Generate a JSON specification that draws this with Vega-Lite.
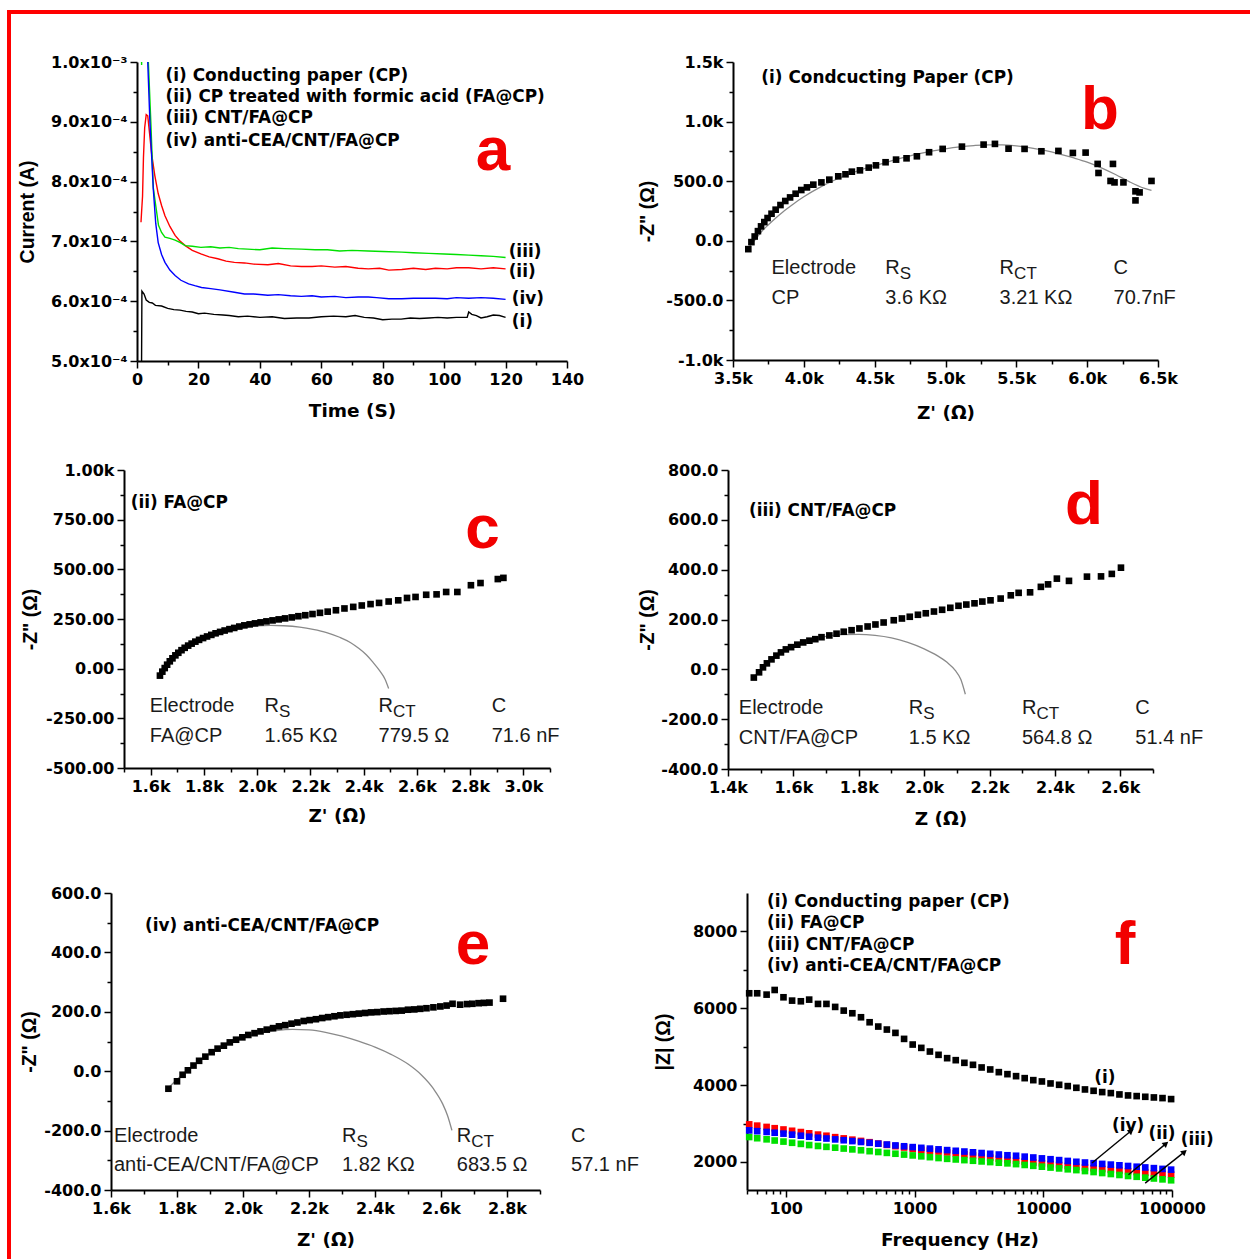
{
"$schema": "https://vega.github.io/schema/vega-lite/v6.json",
"padding": {"left": 7, "top": 10, "right": 0, "bottom": 0},
"background": "white",
"config": {
  "view": {"stroke": null},
  "axis": {"labelFont": "DejaVu Sans", "labelFontWeight": "bold", "labelFontSize": 16, "labelColor": "#000", "titleFont": "DejaVu Sans", "titleFontWeight": "bold", "titleFontSize": 18.5, "titleColor": "#000", "domainColor": "#000", "domainWidth": 2, "tickColor": "#000", "tickWidth": 1.5, "grid": false, "labelFlush": false, "labelOverlap": false, "labelPadding": 3},
  "axisY": {"titleFont": "Liberation Sans", "titleFontSize": 19.5}
},
"spacing": 0,
"bounds": "flush",
"hconcat": [
  {"width": 4, "height": 1249, "data": {"values": []}, "mark": "point", "view": {"fill": "#ff0000", "stroke": null}},
  {"spacing": 0, "bounds": "flush", "vconcat": [
    {"width": 1239, "height": 4, "data": {"values": []}, "mark": "point", "view": {"fill": "#ff0000", "stroke": null}},
    {"spacing": 0, "bounds": "flush", "hconcat": [
      {"spacing": 0, "bounds": "flush", "vconcat": [
        {"width": 1, "height": 48, "data": {"values": []}, "mark": "point"},
        {"spacing": 0, "bounds": "flush", "hconcat": [
          {"width": 126, "height": 1, "data": {"values": []}, "mark": "point"},
          {"spacing": 166, "bounds": "flush", "hconcat": [
            {"width": 430, "height": 299,
             "encoding": {
               "x": {"field": "x", "type": "quantitative", "scale": {"domain": [0, 140], "nice": false, "zero": false},
                 "axis": {"title": "Time (S)", "values": [0,10,20,30,40,50,60,70,80,90,100,110,120,130,140], "labelExpr": "datum.value % 20 == 0 ? format(datum.value, 'd') : ''", "tickSize": {"condition": {"test": "datum.value % 20 == 0", "value": 7}, "value": 4}, "minExtent": 25, "maxExtent": 25, "titlePadding": 15.4}},
               "y": {"field": "y", "type": "quantitative", "scale": {"domain": [0.0005, 0.001], "nice": false, "zero": false},
                 "axis": {"title": "Current (A)", "values": [0.0005,0.00055,0.0006,0.00065,0.0007,0.00075,0.0008,0.00085,0.0009,0.00095,0.001], "labelExpr": "datum.value > 0.000999 ? '1.0x10⁻³' : (abs(datum.value * 10000 - round(datum.value * 10000)) < 0.01 ? format(datum.value * 10000, '.1f') + 'x10⁻⁴' : '')", "tickSize": {"condition": {"test": "abs(datum.value * 10000 - round(datum.value * 10000)) < 0.01", "value": 7}, "value": 4}, "minExtent": 80, "maxExtent": 80, "titlePadding": 19.6}}
             },
             "layer": [
               {"data": {"values": [
                 {"s":"i","x":1.3,"y":0.0003},{"s":"i","x":1.6,"y":0.000617},{"s":"i","x":2.3,"y":0.000612},{"s":"i","x":3,"y":0.000602},{"s":"i","x":4,"y":0.000598},{"s":"i","x":5,"y":0.000597},{"s":"i","x":6,"y":0.000593},{"s":"i","x":8,"y":0.000592},{"s":"i","x":10,"y":0.000588},{"s":"i","x":12,"y":0.000586},{"s":"i","x":14,"y":0.000585},{"s":"i","x":16,"y":0.000583},{"s":"i","x":18,"y":0.000582},{"s":"i","x":20,"y":0.000579},{"s":"i","x":22,"y":0.00058},{"s":"i","x":25,"y":0.000578},{"s":"i","x":28,"y":0.000577},{"s":"i","x":30,"y":0.000576},{"s":"i","x":33,"y":0.000574},{"s":"i","x":36,"y":0.000575},{"s":"i","x":40,"y":0.000573},{"s":"i","x":44,"y":0.000574},{"s":"i","x":48,"y":0.000571},{"s":"i","x":52,"y":0.000572},{"s":"i","x":56,"y":0.000572},{"s":"i","x":60,"y":0.000574},{"s":"i","x":64,"y":0.000575},{"s":"i","x":68,"y":0.000574},{"s":"i","x":71,"y":0.000576},{"s":"i","x":74,"y":0.000573},{"s":"i","x":77,"y":0.000572},{"s":"i","x":80,"y":0.000569},{"s":"i","x":83,"y":0.00057},{"s":"i","x":86,"y":0.00057},{"s":"i","x":89,"y":0.000572},{"s":"i","x":92,"y":0.000571},{"s":"i","x":95,"y":0.000572},{"s":"i","x":98,"y":0.000573},{"s":"i","x":101,"y":0.000572},{"s":"i","x":104,"y":0.000573},{"s":"i","x":107.5,"y":0.000573},{"s":"i","x":108,"y":0.000582},{"s":"i","x":109,"y":0.000578},{"s":"i","x":110.5,"y":0.000576},{"s":"i","x":112,"y":0.000572},{"s":"i","x":114,"y":0.000574},{"s":"i","x":116,"y":0.000577},{"s":"i","x":118,"y":0.000576},{"s":"i","x":120,"y":0.000573},
                 {"s":"ii","x":1.3,"y":0.000732},{"s":"ii","x":1.5,"y":0.00075},{"s":"ii","x":1.8,"y":0.000775},{"s":"ii","x":2.1,"y":0.00084},{"s":"ii","x":2.5,"y":0.00089},{"s":"ii","x":3.0,"y":0.000912},{"s":"ii","x":3.5,"y":0.00091},{"s":"ii","x":4.1,"y":0.00088},{"s":"ii","x":4.8,"y":0.000845},{"s":"ii","x":5.8,"y":0.00081},{"s":"ii","x":6.9,"y":0.00078},{"s":"ii","x":8.0,"y":0.00076},{"s":"ii","x":9.1,"y":0.000743},{"s":"ii","x":10.7,"y":0.000725},{"s":"ii","x":12.4,"y":0.00071},{"s":"ii","x":14.1,"y":0.0007},{"s":"ii","x":15.7,"y":0.000693},{"s":"ii","x":18,"y":0.000685},{"s":"ii","x":20.8,"y":0.000679},{"s":"ii","x":23.5,"y":0.000674},{"s":"ii","x":26.3,"y":0.000671},{"s":"ii","x":29,"y":0.000667},{"s":"ii","x":31.7,"y":0.000665},{"s":"ii","x":35,"y":0.000664},{"s":"ii","x":38,"y":0.000662},{"s":"ii","x":42.6,"y":0.000661},{"s":"ii","x":46,"y":0.000663},{"s":"ii","x":50,"y":0.000659},{"s":"ii","x":53.5,"y":0.000658},{"s":"ii","x":57,"y":0.000658},{"s":"ii","x":60,"y":0.000659},{"s":"ii","x":64.4,"y":0.000657},{"s":"ii","x":68,"y":0.000658},{"s":"ii","x":72,"y":0.000655},{"s":"ii","x":75.3,"y":0.000654},{"s":"ii","x":79,"y":0.000655},{"s":"ii","x":82,"y":0.000652},{"s":"ii","x":86.2,"y":0.000653},{"s":"ii","x":90,"y":0.000655},{"s":"ii","x":94,"y":0.000653},{"s":"ii","x":97.2,"y":0.000655},{"s":"ii","x":101,"y":0.000654},{"s":"ii","x":104,"y":0.000656},{"s":"ii","x":108,"y":0.000656},{"s":"ii","x":112,"y":0.000654},{"s":"ii","x":116,"y":0.000656},{"s":"ii","x":120,"y":0.000654},
                 {"s":"iii","x":1.4,"y":0.00105},{"s":"iii","x":1.5,"y":0.000995},{"s":"iii","x":1.6,"y":0.00105},{"s":"iii","x":3.4,"y":0.00106},{"s":"iii","x":3.7,"y":0.001},{"s":"iii","x":4.5,"y":0.0009},{"s":"iii","x":5.3,"y":0.00079},{"s":"iii","x":6.1,"y":0.00076},{"s":"iii","x":7.0,"y":0.000727},{"s":"iii","x":8.0,"y":0.000715},{"s":"iii","x":9.1,"y":0.000707},{"s":"iii","x":10.7,"y":0.000705},{"s":"iii","x":12.4,"y":0.000702},{"s":"iii","x":14.1,"y":0.000698},{"s":"iii","x":15.7,"y":0.000693},{"s":"iii","x":18,"y":0.000692},{"s":"iii","x":20.8,"y":0.00069},{"s":"iii","x":24,"y":0.000691},{"s":"iii","x":27,"y":0.000689},{"s":"iii","x":30,"y":0.00069},{"s":"iii","x":33,"y":0.000688},{"s":"iii","x":36,"y":0.000687},{"s":"iii","x":40,"y":0.000686},{"s":"iii","x":44,"y":0.000689},{"s":"iii","x":48,"y":0.000688},{"s":"iii","x":53.5,"y":0.000687},{"s":"iii","x":58,"y":0.000686},{"s":"iii","x":62,"y":0.000686},{"s":"iii","x":66,"y":0.000684},{"s":"iii","x":70,"y":0.000685},{"s":"iii","x":75.3,"y":0.000684},{"s":"iii","x":80,"y":0.000683},{"s":"iii","x":86.2,"y":0.000682},{"s":"iii","x":90,"y":0.000681},{"s":"iii","x":95,"y":0.00068},{"s":"iii","x":100,"y":0.000679},{"s":"iii","x":104,"y":0.000678},{"s":"iii","x":108,"y":0.000677},{"s":"iii","x":112,"y":0.000676},{"s":"iii","x":116,"y":0.000675},{"s":"iii","x":120,"y":0.000673},
                 {"s":"iv","x":3.1,"y":0.00106},{"s":"iv","x":3.5,"y":0.001},{"s":"iv","x":4.2,"y":0.0009},{"s":"iv","x":5.3,"y":0.000788},{"s":"iv","x":6.1,"y":0.00073},{"s":"iv","x":6.9,"y":0.000698},{"s":"iv","x":8.0,"y":0.000678},{"s":"iv","x":9.1,"y":0.000665},{"s":"iv","x":10.7,"y":0.000652},{"s":"iv","x":12.4,"y":0.000643},{"s":"iv","x":14.3,"y":0.000635},{"s":"iv","x":16.8,"y":0.000629},{"s":"iv","x":18.8,"y":0.000626},{"s":"iv","x":21,"y":0.000623},{"s":"iv","x":24,"y":0.000621},{"s":"iv","x":27,"y":0.000619},{"s":"iv","x":31.7,"y":0.000615},{"s":"iv","x":35,"y":0.000612},{"s":"iv","x":38,"y":0.000612},{"s":"iv","x":42.6,"y":0.00061},{"s":"iv","x":46,"y":0.000611},{"s":"iv","x":50,"y":0.000609},{"s":"iv","x":53.5,"y":0.000608},{"s":"iv","x":57,"y":0.000609},{"s":"iv","x":60,"y":0.000607},{"s":"iv","x":64.4,"y":0.000608},{"s":"iv","x":68,"y":0.000606},{"s":"iv","x":72,"y":0.000607},{"s":"iv","x":75.3,"y":0.000607},{"s":"iv","x":78,"y":0.000606},{"s":"iv","x":82,"y":0.000604},{"s":"iv","x":86.2,"y":0.000604},{"s":"iv","x":90,"y":0.000605},{"s":"iv","x":94,"y":0.000605},{"s":"iv","x":97.2,"y":0.000605},{"s":"iv","x":101,"y":0.000604},{"s":"iv","x":104,"y":0.000606},{"s":"iv","x":108,"y":0.000605},{"s":"iv","x":112,"y":0.000606},{"s":"iv","x":116,"y":0.000605},{"s":"iv","x":120,"y":0.000603}
               ]},
               "mark": {"type": "line", "clip": true, "strokeWidth": 1.4},
               "encoding": {"color": {"field": "s", "type": "nominal", "scale": {"domain": ["i","ii","iii","iv"], "range": ["#000000","#ff0000","#00e000","#0000ff"]}, "legend": null}}},
               {"data": {"values": [
                 {"x": 9.3, "y": 0.0009771, "t": "(i) Conducting paper (CP)"},
                 {"x": 9.3, "y": 0.000942, "t": "(ii) CP treated with formic acid (FA@CP)"},
                 {"x": 9.3, "y": 0.0009059, "t": "(iii) CNT/FA@CP"},
                 {"x": 9.3, "y": 0.0008679, "t": "(iv) anti-CEA/CNT/FA@CP"},
                 {"x": 121, "y": 0.0006828, "t": "(iii)"},
                 {"x": 121, "y": 0.0006483, "t": "(ii)"},
                 {"x": 122, "y": 0.0006037, "t": "(iv)"},
                 {"x": 122, "y": 0.0005657, "t": "(i)"}
               ]},
               "mark": {"type": "text", "align": "left", "baseline": "middle", "font": "DejaVu Sans", "fontWeight": "bold", "fontSize": 16.9, "color": "#000"},
               "encoding": {"text": {"field": "t", "type": "nominal"}}},
               {"data": {"values": [{"x": 115.9, "y": 0.0008194, "t": "a"}]},
               "mark": {"type": "text", "align": "center", "baseline": "alphabetic", "font": "Liberation Sans", "fontWeight": "bold", "fontSize": 62, "color": "#f20000"},
               "encoding": {"text": {"field": "t", "type": "nominal"}}}
             ]},
            {"width": 425, "height": 298,
             "encoding": {
               "x": {"field": "x", "type": "quantitative", "scale": {"domain": [3500, 6500], "nice": false, "zero": false},
                 "axis": {"title": "Z' (Ω)", "values": [3500,3750,4000,4250,4500,4750,5000,5250,5500,5750,6000,6250,6500], "labelExpr": "datum.value % 500 == 0 ? format(datum.value / 1000, '.1f') + 'k' : ''", "tickSize": {"condition": {"test": "datum.value % 500 == 0", "value": 7}, "value": 4}, "minExtent": 25, "maxExtent": 25, "titlePadding": 18.4}},
               "y": {"field": "y", "type": "quantitative", "scale": {"domain": [-1000, 1500], "nice": false, "zero": false},
                 "axis": {"title": "-Z\" (Ω)", "values": [-1000,-750,-500,-250,0,250,500,750,1000,1250,1500], "labelExpr": "datum.value % 500 != 0 ? '' : (abs(datum.value) >= 1000 ? (datum.value < 0 ? '-' : '') + format(abs(datum.value) / 1000, '.1f') + 'k' : (datum.value < 0 ? '-' : '') + format(abs(datum.value), '.1f'))", "tickSize": {"condition": {"test": "datum.value % 500 == 0", "value": 7}, "value": 4}, "minExtent": 60, "maxExtent": 60, "titlePadding": 15.6}}
             },
             "layer": [
               {"data": {"values": [{"x":3600,"y":-70},{"x":3650,"y":0},{"x":3700,"y":75},{"x":3750,"y":135},{"x":3800,"y":190},{"x":3850,"y":240},{"x":3900,"y":285},{"x":3950,"y":330},{"x":4000,"y":370},{"x":4100,"y":440},{"x":4200,"y":500},{"x":4300,"y":550},{"x":4400,"y":595},{"x":4500,"y":630},{"x":4600,"y":665},{"x":4700,"y":697},{"x":4800,"y":727},{"x":4900,"y":752},{"x":5000,"y":772},{"x":5100,"y":788},{"x":5200,"y":799},{"x":5300,"y":805},{"x":5400,"y":804},{"x":5500,"y":796},{"x":5600,"y":780},{"x":5700,"y":758},{"x":5800,"y":730},{"x":5900,"y":697},{"x":6000,"y":660},{"x":6100,"y":612},{"x":6200,"y":556},{"x":6300,"y":494},{"x":6400,"y":442},{"x":6454,"y":423}]},
                "mark": {"type": "line", "color": "#8a8a8a", "strokeWidth": 1.3, "interpolate": "monotone"}},
               {"data": {"values": [{"x":3608,"y":-70},{"x":3630,"y":-11},{"x":3653,"y":36},{"x":3676,"y":81},{"x":3698,"y":121},{"x":3721,"y":157},{"x":3744,"y":191},{"x":3772,"y":227},{"x":3801,"y":261},{"x":3835,"y":300},{"x":3869,"y":334},{"x":3903,"y":364},{"x":3942,"y":395},{"x":3982,"y":426},{"x":4022,"y":448},{"x":4067,"y":471},{"x":4124,"y":490},{"x":4180,"y":513},{"x":4243,"y":541},{"x":4294,"y":558},{"x":4339,"y":580},{"x":4396,"y":591},{"x":4458,"y":614},{"x":4509,"y":633},{"x":4577,"y":659},{"x":4651,"y":681},{"x":4725,"y":692},{"x":4798,"y":709},{"x":4884,"y":743},{"x":4980,"y":771},{"x":5116,"y":790},{"x":5269,"y":807},{"x":5349,"y":813},{"x":5445,"y":773},{"x":5558,"y":771},{"x":5677,"y":751},{"x":5797,"y":754},{"x":5899,"y":737},{"x":5989,"y":740},{"x":6074,"y":645},{"x":6080,"y":569},{"x":6182,"y":645},{"x":6165,"y":502},{"x":6193,"y":490},{"x":6256,"y":490},{"x":6341,"y":415},{"x":6370,"y":406},{"x":6341,"y":339},{"x":6454,"y":502}]},
                "mark": {"type": "square", "filled": true, "color": "#000", "size": 44, "opacity": 1}},
               {"data": {"values": [{"x": 3700, "y": 1368, "t": "(i) Condcucting Paper (CP)"}]},
                "mark": {"type": "text", "align": "left", "baseline": "middle", "font": "DejaVu Sans", "fontWeight": "bold", "fontSize": 16.9, "color": "#000"},
                "encoding": {"text": {"field": "t", "type": "nominal"}}},
               {"data": {"values": [{"x":3772,"y":-231,"t":"Electrode"},{"x":4575,"y":-231,"t":"R"},{"x":5382,"y":-231,"t":"R"},{"x":6186,"y":-231,"t":"C"},{"x":3772,"y":-477,"t":"CP"},{"x":4575,"y":-477,"t":"3.6 KΩ"},{"x":5382,"y":-477,"t":"3.21 KΩ"},{"x":6186,"y":-477,"t":"70.7nF"}]},
                "mark": {"type": "text", "align": "left", "baseline": "middle", "font": "Liberation Sans", "fontSize": 20, "color": "#1a1a1a"},
                "encoding": {"text": {"field": "t", "type": "nominal"}}},
               {"data": {"values": [{"x":4575,"y":-231,"t":"S"},{"x":5382,"y":-231,"t":"CT"}]},
                "mark": {"type": "text", "align": "left", "baseline": "middle", "font": "Liberation Sans", "fontSize": 17, "dx": 14.5, "dy": 6, "color": "#1a1a1a"},
                "encoding": {"text": {"field": "t", "type": "nominal"}}},
               {"data": {"values": [{"x": 6091, "y": 938, "t": "b"}]},
                "mark": {"type": "text", "align": "center", "baseline": "alphabetic", "font": "Liberation Sans", "fontWeight": "bold", "fontSize": 62, "color": "#f20000"},
                "encoding": {"text": {"field": "t", "type": "nominal"}}}
             ]}
          ]}
        ]}
      ]},
      {"spacing": 0, "bounds": "flush", "vconcat": [
        {"width": 1, "height": 456, "data": {"values": []}, "mark": "point"},
        {"spacing": 0, "bounds": "flush", "hconcat": [
          {"width": 113, "height": 1, "data": {"values": []}, "mark": "point"},
          {"spacing": 178, "bounds": "flush", "hconcat": [
            {"width": 426, "height": 298,
             "encoding": {
               "x": {"field": "x", "type": "quantitative", "scale": {"domain": [1500, 3100], "nice": false, "zero": false},
                 "axis": {"title": "Z' (Ω)", "values": [1500,1600,1700,1800,1900,2000,2100,2200,2300,2400,2500,2600,2700,2800,2900,3000,3100], "labelExpr": "datum.value % 200 == 0 ? format(datum.value / 1000, '.1f') + 'k' : ''", "tickSize": {"condition": {"test": "datum.value % 200 == 0", "value": 7}, "value": 4}, "minExtent": 25, "maxExtent": 25, "titlePadding": 13.4}},
               "y": {"field": "y", "type": "quantitative", "scale": {"domain": [-500, 1000], "nice": false, "zero": false},
                 "axis": {"title": "-Z\" (Ω)", "values": [-500,-375,-250,-125,0,125,250,375,500,625,750,875,1000], "labelExpr": "datum.value % 250 != 0 ? '' : (datum.value == 1000 ? '1.00k' : (datum.value < 0 ? '-' : '') + format(abs(datum.value), '.2f'))", "tickSize": {"condition": {"test": "datum.value % 250 == 0", "value": 7}, "value": 4}, "minExtent": 66, "maxExtent": 66, "titlePadding": 17.6}}
             },
             "layer": [
               {"data": {"values": [{"x":1640,"y":-30},{"x":1670,"y":25},{"x":1700,"y":68},{"x":1750,"y":118},{"x":1800,"y":152},{"x":1850,"y":176},{"x":1900,"y":195},{"x":1950,"y":207},{"x":2000,"y":215},{"x":2050,"y":218},{"x":2100,"y":216},{"x":2160,"y":209},{"x":2210,"y":198},{"x":2261,"y":182},{"x":2310,"y":158},{"x":2350,"y":132},{"x":2380,"y":104},{"x":2410,"y":70},{"x":2434,"y":34},{"x":2460,"y":-10},{"x":2480,"y":-52},{"x":2494,"y":-100}]},
                "mark": {"type": "line", "color": "#8a8a8a", "strokeWidth": 1.3, "interpolate": "monotone"}},
               {"data": {"values": [{"x":1635,"y":-35},{"x":1644,"y":-15},{"x":1653,"y":3},{"x":1662,"y":20},{"x":1672,"y":37},{"x":1682,"y":52},{"x":1693,"y":67},{"x":1704,"y":80},{"x":1716,"y":93},{"x":1728,"y":105},{"x":1741,"y":116},{"x":1754,"y":126},{"x":1768,"y":136},{"x":1782,"y":145},{"x":1797,"y":154},{"x":1812,"y":162},{"x":1828,"y":170},{"x":1844,"y":178},{"x":1861,"y":185},{"x":1878,"y":192},{"x":1896,"y":199},{"x":1914,"y":205},{"x":1933,"y":212},{"x":1952,"y":218},{"x":1972,"y":223},{"x":1992,"y":228},{"x":2013,"y":233},{"x":2035,"y":238},{"x":2058,"y":243},{"x":2081,"y":248},{"x":2105,"y":253},{"x":2130,"y":258},{"x":2155,"y":264},{"x":2181,"y":269},{"x":2208,"y":275},{"x":2236,"y":281},{"x":2265,"y":287},{"x":2296,"y":294},{"x":2328,"y":303},{"x":2361,"y":311},{"x":2393,"y":318},{"x":2426,"y":325},{"x":2458,"y":331},{"x":2494,"y":338},{"x":2530,"y":344},{"x":2563,"y":356},{"x":2595,"y":361},{"x":2635,"y":372},{"x":2674,"y":374},{"x":2710,"y":386},{"x":2752,"y":386},{"x":2803,"y":420},{"x":2839,"y":431},{"x":2904,"y":451},{"x":2925,"y":457}]},
                "mark": {"type": "square", "filled": true, "color": "#000", "size": 44, "opacity": 1}},
               {"data": {"values": [{"x": 1525, "y": 833, "t": "(ii) FA@CP"}]},
                "mark": {"type": "text", "align": "left", "baseline": "middle", "font": "DejaVu Sans", "fontWeight": "bold", "fontSize": 16.9, "color": "#000"},
                "encoding": {"text": {"field": "t", "type": "nominal"}}},
               {"data": {"values": [{"x":1597,"y":-187,"t":"Electrode"},{"x":2028,"y":-187,"t":"R"},{"x":2456,"y":-187,"t":"R"},{"x":2881,"y":-187,"t":"C"},{"x":1597,"y":-337,"t":"FA@CP"},{"x":2028,"y":-337,"t":"1.65 KΩ"},{"x":2456,"y":-337,"t":"779.5 Ω"},{"x":2881,"y":-337,"t":"71.6 nF"}]},
                "mark": {"type": "text", "align": "left", "baseline": "middle", "font": "Liberation Sans", "fontSize": 20, "color": "#1a1a1a"},
                "encoding": {"text": {"field": "t", "type": "nominal"}}},
               {"data": {"values": [{"x":2028,"y":-187,"t":"S"},{"x":2456,"y":-187,"t":"CT"}]},
                "mark": {"type": "text", "align": "left", "baseline": "middle", "font": "Liberation Sans", "fontSize": 17, "dx": 14.5, "dy": 6, "color": "#1a1a1a"},
                "encoding": {"text": {"field": "t", "type": "nominal"}}},
               {"data": {"values": [{"x": 2846, "y": 606, "t": "c"}]},
                "mark": {"type": "text", "align": "center", "baseline": "alphabetic", "font": "Liberation Sans", "fontWeight": "bold", "fontSize": 62, "color": "#f20000"},
                "encoding": {"text": {"field": "t", "type": "nominal"}}}
             ]},
            {"width": 425, "height": 299,
             "encoding": {
               "x": {"field": "x", "type": "quantitative", "scale": {"domain": [1400, 2700], "nice": false, "zero": false},
                 "axis": {"title": "Z (Ω)", "values": [1400,1500,1600,1700,1800,1900,2000,2100,2200,2300,2400,2500,2600,2700], "labelExpr": "datum.value % 200 == 0 ? format(datum.value / 1000, '.1f') + 'k' : ''", "tickSize": {"condition": {"test": "datum.value % 200 == 0", "value": 7}, "value": 4}, "minExtent": 25, "maxExtent": 25, "titlePadding": 15.1}},
               "y": {"field": "y", "type": "quantitative", "scale": {"domain": [-400, 800], "nice": false, "zero": false},
                 "axis": {"title": "-Z\" (Ω)", "values": [-400,-300,-200,-100,0,100,200,300,400,500,600,700,800], "labelExpr": "datum.value % 200 != 0 ? '' : (datum.value < 0 ? '-' : '') + format(abs(datum.value), '.1f')", "tickSize": {"condition": {"test": "datum.value % 200 == 0", "value": 7}, "value": 4}, "minExtent": 55, "maxExtent": 55, "titlePadding": 15.6}}
             },
             "layer": [
               {"data": {"values": [{"x":1480,"y":-30},{"x":1500,"y":0},{"x":1550,"y":56},{"x":1600,"y":94},{"x":1650,"y":118},{"x":1700,"y":132},{"x":1750,"y":139},{"x":1800,"y":140},{"x":1850,"y":136},{"x":1900,"y":126},{"x":1950,"y":108},{"x":2000,"y":82},{"x":2040,"y":55},{"x":2070,"y":28},{"x":2095,"y":-4},{"x":2112,"y":-40},{"x":2126,"y":-100}]},
                "mark": {"type": "line", "color": "#8a8a8a", "strokeWidth": 1.3, "interpolate": "monotone"}},
               {"data": {"values": [{"x":1479,"y":-33},{"x":1495,"y":-12},{"x":1507,"y":8},{"x":1519,"y":24},{"x":1533,"y":40},{"x":1548,"y":55},{"x":1562,"y":68},{"x":1577,"y":80},{"x":1593,"y":89},{"x":1612,"y":99},{"x":1630,"y":108},{"x":1649,"y":115},{"x":1667,"y":121},{"x":1686,"y":129},{"x":1710,"y":136},{"x":1732,"y":143},{"x":1754,"y":151},{"x":1778,"y":157},{"x":1802,"y":164},{"x":1827,"y":172},{"x":1851,"y":180},{"x":1876,"y":188},{"x":1907,"y":197},{"x":1932,"y":204},{"x":1956,"y":211},{"x":1981,"y":219},{"x":2005,"y":225},{"x":2030,"y":232},{"x":2055,"y":239},{"x":2080,"y":247},{"x":2105,"y":255},{"x":2129,"y":260},{"x":2154,"y":265},{"x":2178,"y":272},{"x":2203,"y":277},{"x":2234,"y":284},{"x":2265,"y":297},{"x":2289,"y":307},{"x":2324,"y":309},{"x":2357,"y":331},{"x":2379,"y":341},{"x":2406,"y":364},{"x":2443,"y":355},{"x":2498,"y":372},{"x":2541,"y":373},{"x":2574,"y":383},{"x":2602,"y":408}]},
                "mark": {"type": "square", "filled": true, "color": "#000", "size": 44, "opacity": 1}},
               {"data": {"values": [{"x": 1464, "y": 635, "t": "(iii) CNT/FA@CP"}]},
                "mark": {"type": "text", "align": "left", "baseline": "middle", "font": "DejaVu Sans", "fontWeight": "bold", "fontSize": 16.9, "color": "#000"},
                "encoding": {"text": {"field": "t", "type": "nominal"}}},
               {"data": {"values": [{"x":1433,"y":-157,"t":"Electrode"},{"x":1953,"y":-157,"t":"R"},{"x":2299,"y":-157,"t":"R"},{"x":2646,"y":-157,"t":"C"},{"x":1433,"y":-277,"t":"CNT/FA@CP"},{"x":1953,"y":-277,"t":"1.5 KΩ"},{"x":2299,"y":-277,"t":"564.8 Ω"},{"x":2646,"y":-277,"t":"51.4 nF"}]},
                "mark": {"type": "text", "align": "left", "baseline": "middle", "font": "Liberation Sans", "fontSize": 20, "color": "#1a1a1a"},
                "encoding": {"text": {"field": "t", "type": "nominal"}}},
               {"data": {"values": [{"x":1953,"y":-157,"t":"S"},{"x":2299,"y":-157,"t":"CT"}]},
                "mark": {"type": "text", "align": "left", "baseline": "middle", "font": "Liberation Sans", "fontSize": 17, "dx": 14.5, "dy": 6, "color": "#1a1a1a"},
                "encoding": {"text": {"field": "t", "type": "nominal"}}},
               {"data": {"values": [{"x": 2489, "y": 582, "t": "d"}]},
                "mark": {"type": "text", "align": "center", "baseline": "alphabetic", "font": "Liberation Sans", "fontWeight": "bold", "fontSize": 62, "color": "#f20000"},
                "encoding": {"text": {"field": "t", "type": "nominal"}}}
             ]}
          ]}
        ]}
      ]},
      {"spacing": 0, "bounds": "flush", "vconcat": [
        {"width": 1, "height": 879, "data": {"values": []}, "mark": "point"},
        {"spacing": 0, "bounds": "flush", "hconcat": [
          {"width": 100, "height": 1, "data": {"values": []}, "mark": "point"},
          {"spacing": 207, "bounds": "flush", "hconcat": [
            {"width": 429, "height": 297,
             "encoding": {
               "x": {"field": "x", "type": "quantitative", "scale": {"domain": [1600, 2900], "nice": false, "zero": false},
                 "axis": {"title": "Z' (Ω)", "values": [1600,1700,1800,1900,2000,2100,2200,2300,2400,2500,2600,2700,2800,2900], "labelExpr": "datum.value % 200 == 0 ? format(datum.value / 1000, '.1f') + 'k' : ''", "tickSize": {"condition": {"test": "datum.value % 200 == 0", "value": 7}, "value": 4}, "minExtent": 25, "maxExtent": 25, "titlePadding": 15}},
               "y": {"field": "y", "type": "quantitative", "scale": {"domain": [-400, 600], "nice": false, "zero": false},
                 "axis": {"title": "-Z\" (Ω)", "values": [-400,-300,-200,-100,0,100,200,300,400,500,600], "labelExpr": "datum.value % 200 != 0 ? '' : (datum.value < 0 ? '-' : '') + format(abs(datum.value), '.1f')", "tickSize": {"condition": {"test": "datum.value % 200 == 0", "value": 7}, "value": 4}, "minExtent": 55, "maxExtent": 55, "titlePadding": 16.6}}
             },
             "layer": [
               {"data": {"values": [{"x":1775,"y":-55},{"x":1800,"y":-28},{"x":1850,"y":20},{"x":1900,"y":60},{"x":1950,"y":91},{"x":2000,"y":113},{"x":2050,"y":128},{"x":2100,"y":137},{"x":2150,"y":141},{"x":2200,"y":139},{"x":2250,"y":131},{"x":2300,"y":118},{"x":2350,"y":101},{"x":2400,"y":81},{"x":2450,"y":56},{"x":2500,"y":24},{"x":2540,"y":-12},{"x":2577,"y":-59},{"x":2605,"y":-110},{"x":2620,"y":-150},{"x":2633,"y":-199}]},
                "mark": {"type": "line", "color": "#8a8a8a", "strokeWidth": 1.3, "interpolate": "monotone"}},
               {"data": {"values": [{"x":1774,"y":-59},{"x":1800,"y":-34},{"x":1817,"y":-12},{"x":1833,"y":3},{"x":1850,"y":19},{"x":1867,"y":35},{"x":1886,"y":49},{"x":1905,"y":64},{"x":1923,"y":76},{"x":1942,"y":86},{"x":1960,"y":97},{"x":1979,"y":106},{"x":1998,"y":114},{"x":2016,"y":122},{"x":2035,"y":128},{"x":2053,"y":134},{"x":2072,"y":140},{"x":2091,"y":145},{"x":2109,"y":151},{"x":2128,"y":155},{"x":2147,"y":160},{"x":2165,"y":164},{"x":2184,"y":169},{"x":2202,"y":172},{"x":2221,"y":175},{"x":2240,"y":179},{"x":2258,"y":182},{"x":2277,"y":185},{"x":2295,"y":188},{"x":2314,"y":190},{"x":2333,"y":192},{"x":2351,"y":194},{"x":2370,"y":196},{"x":2388,"y":198},{"x":2407,"y":199},{"x":2426,"y":201},{"x":2444,"y":202},{"x":2463,"y":203},{"x":2481,"y":204},{"x":2500,"y":207},{"x":2519,"y":208},{"x":2537,"y":210},{"x":2556,"y":212},{"x":2577,"y":215},{"x":2598,"y":218},{"x":2617,"y":221},{"x":2635,"y":227},{"x":2658,"y":224},{"x":2679,"y":226},{"x":2695,"y":227},{"x":2714,"y":229},{"x":2730,"y":230},{"x":2747,"y":231},{"x":2788,"y":244}]},
                "mark": {"type": "square", "filled": true, "color": "#000", "size": 44, "opacity": 1}},
               {"data": {"values": [{"x": 1703, "y": 488, "t": "(iv) anti-CEA/CNT/FA@CP"}]},
                "mark": {"type": "text", "align": "left", "baseline": "middle", "font": "DejaVu Sans", "fontWeight": "bold", "fontSize": 16.9, "color": "#000"},
                "encoding": {"text": {"field": "t", "type": "nominal"}}},
               {"data": {"values": [{"x":1609,"y":-218,"t":"Electrode"},{"x":2300,"y":-218,"t":"R"},{"x":2648,"y":-218,"t":"R"},{"x":2994,"y":-218,"t":"C"},{"x":1609,"y":-317,"t":"anti-CEA/CNT/FA@CP"},{"x":2300,"y":-317,"t":"1.82 KΩ"},{"x":2648,"y":-317,"t":"683.5 Ω"},{"x":2994,"y":-317,"t":"57.1 nF"}]},
                "mark": {"type": "text", "align": "left", "baseline": "middle", "font": "Liberation Sans", "fontSize": 20, "color": "#1a1a1a"},
                "encoding": {"text": {"field": "t", "type": "nominal"}}},
               {"data": {"values": [{"x":2300,"y":-218,"t":"S"},{"x":2648,"y":-218,"t":"CT"}]},
                "mark": {"type": "text", "align": "left", "baseline": "middle", "font": "Liberation Sans", "fontSize": 17, "dx": 14.5, "dy": 6, "color": "#1a1a1a"},
                "encoding": {"text": {"field": "t", "type": "nominal"}}},
               {"data": {"values": [{"x": 2697, "y": 361, "t": "e"}]},
                "mark": {"type": "text", "align": "center", "baseline": "alphabetic", "font": "Liberation Sans", "fontWeight": "bold", "fontSize": 62, "color": "#f20000"},
                "encoding": {"text": {"field": "t", "type": "nominal"}}}
             ]},
            {"width": 425, "height": 297,
             "encoding": {
               "x": {"field": "x", "type": "quantitative", "scale": {"type": "log", "domain": [50, 100000], "nice": false},
                 "axis": {"title": "Frequency (Hz)", "values": [50,60,70,80,90,100,200,300,400,500,600,700,800,900,1000,2000,3000,4000,5000,6000,7000,8000,9000,10000,20000,30000,40000,50000,60000,70000,80000,90000,100000], "labelExpr": "abs(log(datum.value) / LN10 - round(log(datum.value) / LN10)) < 0.001 ? format(datum.value, 'd') : ''", "tickSize": {"condition": {"test": "abs(log(datum.value) / LN10 - round(log(datum.value) / LN10)) < 0.001", "value": 7}, "value": 4}, "minExtent": 25, "maxExtent": 25, "titlePadding": 15}},
               "y": {"field": "y", "type": "quantitative", "scale": {"domain": [1270, 9000], "nice": false, "zero": false},
                 "axis": {"title": "|Z|  (Ω)", "values": [2000,3000,4000,5000,6000,7000,8000], "labelExpr": "datum.value % 2000 == 0 ? format(datum.value, 'd') : ''", "tickSize": {"condition": {"test": "datum.value % 2000 == 0", "value": 7}, "value": 4}, "minExtent": 55, "maxExtent": 55, "titlePadding": 18.6}}
             },
             "layer": [
               {"data": {"values": [
                 {"s":"i","x":52,"y":6390},{"s":"i","x":60,"y":6390},{"s":"i","x":71,"y":6355},{"s":"i","x":82,"y":6476},{"s":"i","x":96,"y":6286},{"s":"i","x":112,"y":6199},{"s":"i","x":131,"y":6182},{"s":"i","x":152,"y":6225},{"s":"i","x":178,"y":6113},{"s":"i","x":207,"y":6113},{"s":"i","x":242,"y":6035},{"s":"i","x":282,"y":5939},{"s":"i","x":329,"y":5870},{"s":"i","x":384,"y":5766},{"s":"i","x":448,"y":5636},{"s":"i","x":523,"y":5524},{"s":"i","x":610,"y":5446},{"s":"i","x":711,"y":5359},{"s":"i","x":830,"y":5203},{"s":"i","x":968,"y":5056},{"s":"i","x":1129,"y":4969},{"s":"i","x":1317,"y":4874},{"s":"i","x":1537,"y":4788},{"s":"i","x":1793,"y":4701},{"s":"i","x":2091,"y":4649},{"s":"i","x":2440,"y":4580},{"s":"i","x":2846,"y":4528},{"s":"i","x":3320,"y":4459},{"s":"i","x":3873,"y":4407},{"s":"i","x":4518,"y":4337},{"s":"i","x":5271,"y":4285},{"s":"i","x":6149,"y":4233},{"s":"i","x":7173,"y":4181},{"s":"i","x":8368,"y":4129},{"s":"i","x":9762,"y":4095},{"s":"i","x":11388,"y":4043},{"s":"i","x":13284,"y":4008},{"s":"i","x":15497,"y":3974},{"s":"i","x":18078,"y":3930},{"s":"i","x":21089,"y":3887},{"s":"i","x":24602,"y":3852},{"s":"i","x":28700,"y":3818},{"s":"i","x":33480,"y":3792},{"s":"i","x":39057,"y":3757},{"s":"i","x":45562,"y":3731},{"s":"i","x":53151,"y":3714},{"s":"i","x":62003,"y":3696},{"s":"i","x":72330,"y":3679},{"s":"i","x":84377,"y":3662},{"s":"i","x":98430,"y":3636},
                 {"s":"ii","x":52,"y":2978},{"s":"ii","x":60,"y":2945},{"s":"ii","x":71,"y":2911},{"s":"ii","x":82,"y":2878},{"s":"ii","x":96,"y":2845},{"s":"ii","x":112,"y":2811},{"s":"ii","x":131,"y":2778},{"s":"ii","x":152,"y":2745},{"s":"ii","x":178,"y":2712},{"s":"ii","x":207,"y":2682},{"s":"ii","x":242,"y":2645},{"s":"ii","x":282,"y":2613},{"s":"ii","x":329,"y":2580},{"s":"ii","x":384,"y":2547},{"s":"ii","x":448,"y":2514},{"s":"ii","x":523,"y":2479},{"s":"ii","x":610,"y":2444},{"s":"ii","x":711,"y":2410},{"s":"ii","x":830,"y":2376},{"s":"ii","x":968,"y":2343},{"s":"ii","x":1129,"y":2319},{"s":"ii","x":1317,"y":2294},{"s":"ii","x":1537,"y":2271},{"s":"ii","x":1793,"y":2247},{"s":"ii","x":2091,"y":2223},{"s":"ii","x":2440,"y":2198},{"s":"ii","x":2846,"y":2170},{"s":"ii","x":3320,"y":2141},{"s":"ii","x":3873,"y":2113},{"s":"ii","x":4518,"y":2084},{"s":"ii","x":5271,"y":2055},{"s":"ii","x":6149,"y":2031},{"s":"ii","x":7173,"y":2009},{"s":"ii","x":8368,"y":1986},{"s":"ii","x":9762,"y":1964},{"s":"ii","x":11388,"y":1941},{"s":"ii","x":13284,"y":1918},{"s":"ii","x":15497,"y":1896},{"s":"ii","x":18078,"y":1874},{"s":"ii","x":21089,"y":1855},{"s":"ii","x":24602,"y":1835},{"s":"ii","x":28700,"y":1816},{"s":"ii","x":33480,"y":1796},{"s":"ii","x":39057,"y":1777},{"s":"ii","x":45562,"y":1757},{"s":"ii","x":53151,"y":1739},{"s":"ii","x":62003,"y":1722},{"s":"ii","x":72330,"y":1704},{"s":"ii","x":84377,"y":1687},{"s":"ii","x":98430,"y":1670},
                 {"s":"iii","x":52,"y":2649},{"s":"iii","x":60,"y":2618},{"s":"iii","x":71,"y":2589},{"s":"iii","x":82,"y":2558},{"s":"iii","x":96,"y":2530},{"s":"iii","x":112,"y":2499},{"s":"iii","x":131,"y":2470},{"s":"iii","x":152,"y":2440},{"s":"iii","x":178,"y":2416},{"s":"iii","x":207,"y":2393},{"s":"iii","x":242,"y":2371},{"s":"iii","x":282,"y":2349},{"s":"iii","x":329,"y":2327},{"s":"iii","x":384,"y":2304},{"s":"iii","x":448,"y":2281},{"s":"iii","x":523,"y":2259},{"s":"iii","x":610,"y":2236},{"s":"iii","x":711,"y":2214},{"s":"iii","x":830,"y":2192},{"s":"iii","x":968,"y":2170},{"s":"iii","x":1129,"y":2147},{"s":"iii","x":1317,"y":2125},{"s":"iii","x":1537,"y":2102},{"s":"iii","x":1793,"y":2081},{"s":"iii","x":2091,"y":2065},{"s":"iii","x":2440,"y":2048},{"s":"iii","x":2846,"y":2031},{"s":"iii","x":3320,"y":2014},{"s":"iii","x":3873,"y":1997},{"s":"iii","x":4518,"y":1980},{"s":"iii","x":5271,"y":1964},{"s":"iii","x":6149,"y":1944},{"s":"iii","x":7173,"y":1922},{"s":"iii","x":8368,"y":1899},{"s":"iii","x":9762,"y":1877},{"s":"iii","x":11388,"y":1854},{"s":"iii","x":13284,"y":1832},{"s":"iii","x":15497,"y":1809},{"s":"iii","x":18078,"y":1788},{"s":"iii","x":21089,"y":1763},{"s":"iii","x":24602,"y":1738},{"s":"iii","x":28700,"y":1712},{"s":"iii","x":33480,"y":1686},{"s":"iii","x":39057,"y":1661},{"s":"iii","x":45562,"y":1635},{"s":"iii","x":53151,"y":1614},{"s":"iii","x":62003,"y":1591},{"s":"iii","x":72330,"y":1570},{"s":"iii","x":84377,"y":1547},{"s":"iii","x":98430,"y":1523},
                 {"s":"iv","x":52,"y":2822},{"s":"iv","x":60,"y":2801},{"s":"iv","x":71,"y":2781},{"s":"iv","x":82,"y":2760},{"s":"iv","x":96,"y":2737},{"s":"iv","x":112,"y":2710},{"s":"iv","x":131,"y":2683},{"s":"iv","x":152,"y":2656},{"s":"iv","x":178,"y":2630},{"s":"iv","x":207,"y":2610},{"s":"iv","x":242,"y":2587},{"s":"iv","x":282,"y":2565},{"s":"iv","x":329,"y":2543},{"s":"iv","x":384,"y":2520},{"s":"iv","x":448,"y":2498},{"s":"iv","x":523,"y":2475},{"s":"iv","x":610,"y":2453},{"s":"iv","x":711,"y":2430},{"s":"iv","x":830,"y":2408},{"s":"iv","x":968,"y":2386},{"s":"iv","x":1129,"y":2367},{"s":"iv","x":1317,"y":2347},{"s":"iv","x":1537,"y":2328},{"s":"iv","x":1793,"y":2308},{"s":"iv","x":2091,"y":2290},{"s":"iv","x":2440,"y":2271},{"s":"iv","x":2846,"y":2251},{"s":"iv","x":3320,"y":2232},{"s":"iv","x":3873,"y":2212},{"s":"iv","x":4518,"y":2193},{"s":"iv","x":5271,"y":2174},{"s":"iv","x":6149,"y":2161},{"s":"iv","x":7173,"y":2138},{"s":"iv","x":8368,"y":2116},{"s":"iv","x":9762,"y":2093},{"s":"iv","x":11388,"y":2071},{"s":"iv","x":13284,"y":2048},{"s":"iv","x":15497,"y":2026},{"s":"iv","x":18078,"y":2004},{"s":"iv","x":21089,"y":1985},{"s":"iv","x":24602,"y":1967},{"s":"iv","x":28700,"y":1949},{"s":"iv","x":33480,"y":1931},{"s":"iv","x":39057,"y":1913},{"s":"iv","x":45562,"y":1895},{"s":"iv","x":53151,"y":1876},{"s":"iv","x":62003,"y":1857},{"s":"iv","x":72330,"y":1839},{"s":"iv","x":84377,"y":1819},{"s":"iv","x":98430,"y":1800}
               ]},
                "mark": {"type": "square", "filled": true, "size": 44, "opacity": 1},
                "encoding": {"color": {"field": "s", "type": "nominal", "scale": {"domain": ["i","ii","iii","iv"], "range": ["#000000","#ff0000","#00e000","#0000ff"]}, "legend": null}}},
               {"data": {"values": [{"x":23900,"y":1974,"x2":48200,"y2":2810},{"x":45900,"y":1668,"x2":89800,"y2":2476},{"x":61900,"y":1450,"x2":125000,"y2":2262}]},
                "mark": {"type": "rule", "color": "#000", "strokeWidth": 1.4},
                "encoding": {"x2": {"field": "x2"}, "y2": {"field": "y2"}}},
               {"data": {"values": [{"x":48200,"y":2810},{"x":89800,"y":2476},{"x":125000,"y":2262}]},
                "mark": {"type": "point", "shape": "triangle-up", "filled": true, "size": 45, "angle": 50, "color": "#000", "opacity": 1}},
               {"data": {"values": [
                 {"x": 71.6, "y": 8753, "t": "(i) Conducting paper (CP)"},
                 {"x": 71.6, "y": 8216, "t": "(ii) FA@CP"},
                 {"x": 71.6, "y": 7653, "t": "(iii) CNT/FA@CP"},
                 {"x": 71.6, "y": 7093, "t": "(iv) anti-CEA/CNT/FA@CP"}
               ]},
                "mark": {"type": "text", "align": "left", "baseline": "middle", "font": "DejaVu Sans", "fontWeight": "bold", "fontSize": 16.9, "color": "#000"},
                "encoding": {"text": {"field": "t", "type": "nominal"}}},
               {"data": {"values": [
                 {"x": 30130, "y": 4182, "t": "(i)"},
                 {"x": 45700, "y": 2931, "t": "(iv)"},
                 {"x": 83600, "y": 2717, "t": "(ii)"},
                 {"x": 157000, "y": 2561, "t": "(iii)"}
               ]},
                "mark": {"type": "text", "align": "center", "baseline": "middle", "font": "DejaVu Sans", "fontWeight": "bold", "fontSize": 16.9, "color": "#000"},
                "encoding": {"text": {"field": "t", "type": "nominal"}}},
               {"data": {"values": [{"x": 43250, "y": 7153, "t": "f"}]},
                "mark": {"type": "text", "align": "center", "baseline": "alphabetic", "font": "Liberation Sans", "fontWeight": "bold", "fontSize": 62, "color": "#f20000"},
                "encoding": {"text": {"field": "t", "type": "nominal"}}}
             ]}
          ]}
        ]}
      ]}
    ]}
  ]}
]
}
